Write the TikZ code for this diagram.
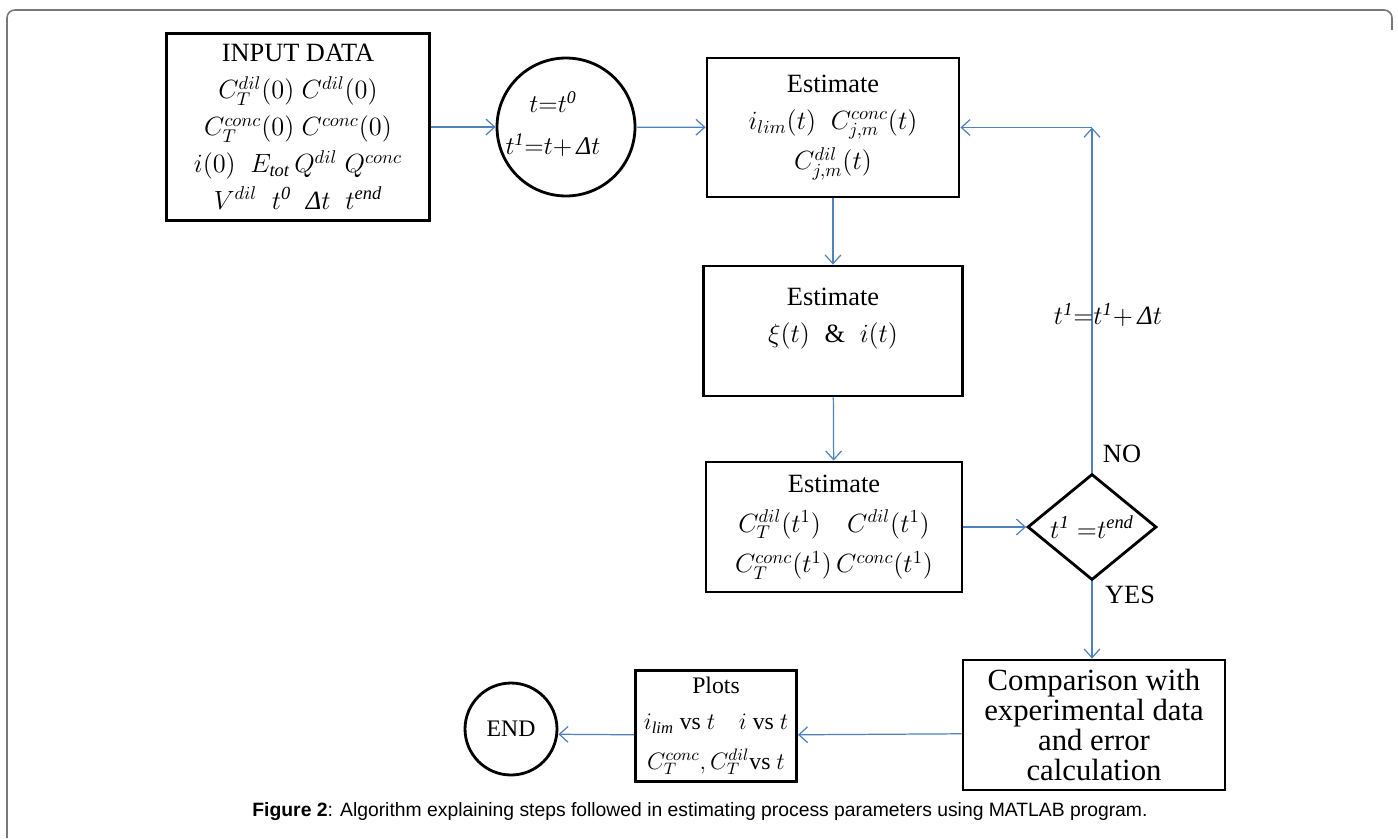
\documentclass[tikz,border=0pt]{standalone}
\usepackage{fix-cm}
\usepackage{fontspec}
\setmainfont{Liberation Serif}
\newfontfamily\capfont{Liberation Sans}
\usetikzlibrary{arrows.meta,shapes.geometric}
\definecolor{linkblue}{RGB}{79,129,189}
\definecolor{framegray}{RGB}{120,120,120}
\newcommand{\Dt}{\textit{Δ}t}

\begin{document}
\begin{tikzpicture}[x=0.02cm,y=-0.02cm]
	\tikzstyle{every node}+=[inner sep=0pt, align=center]
	\tikzstyle{box}=[draw=black, line width=1.6pt, rectangle, font=\fontsize{15}{21}\selectfont]
	\tikzstyle{round}=[draw=black, line width=1.6pt, circle, font=\fontsize{15}{20.5}\selectfont]
	\tikzstyle{flow}=[draw=linkblue, line width=0.7pt, -{Straight Barb[length=5pt,width=9pt]}]
	\tikzstyle{lbl}=[font=\fontsize{15}{18}\selectfont]
	\useasboundingbox (0,0) rectangle (1398,838);
	% frame
	\draw [framegray, line width=0.9pt, rounded corners=4.5pt] (7,838) -- (7,10) -- (1392,10) -- (1392,30);
	% nodes
	\node [box, minimum width=5.26cm, minimum height=3.74cm] (input) at (298,127) {INPUT DATA\\
		$C_T^{dil}(0)\;C^{dil}(0)$\\
		$C_T^{conc}(0)\;C^{conc}(0)$\\
		$i(0)\;\;E_{\mathit{tot}}\,Q^{dil}\;Q^{conc}$\\
		$V^{dil}\;\;t^{\mathit{0}}\;\;\Dt\;\;t^{\mathit{end}}$};
	\node [round, minimum size=2.76cm] (init) at (566,127) {};
	\node [lbl, font=\fontsize{14.5}{24}\selectfont] (inittext) at (553,124) {$t{=}t^{\mathit{0}}$\hspace{0.76cm}\\ $t^{\mathit{1}}{=}t{+}\,\Dt$};
	\node [box, minimum width=5.04cm, minimum height=2.78cm] (est1) at (833,127.5) {Estimate\\
		$i_{lim}(t)\;\;C_{j,m}^{conc}(t)$\\[2pt]
		$C_{j,m}^{dil}(t)$};
	\node [box, minimum width=5.18cm, minimum height=2.6cm] (est2) at (833,331) {Estimate\\
		$\xi(t)\;\;\&\;\;i(t)$\\[-9pt] \strut};
	\node [box, minimum width=5.12cm, minimum height=2.6cm] (est3) at (834,527) {Estimate\\[2pt]
		$C_T^{dil}(t^1)\quad C^{dil}(t^1)$\\[2pt]
		$C_T^{conc}(t^1)\,C^{conc}(t^1)$};
	\node [draw=black, line width=1.6pt, diamond, minimum width=2.58cm, minimum height=1.82cm, font=\fontsize{15}{18}\selectfont] (check) at (1092,527) {$t^{\mathit{1}}\;{=}t^{\mathit{end}}$};
	\node [box, minimum width=5.24cm, minimum height=2.6cm, font=\fontsize{17.5}{17.2}\selectfont] (cmp) at (1094,725) {Comparison with\\experimental data\\and error\\calculation};
	\node [box, minimum width=3.22cm, minimum height=2.22cm, font=\fontsize{13.5}{20.5}\selectfont] (plots) at (716,726) {Plots\\
		$i_{\mathit{lim}}$ vs $t$\quad $i$ vs $t$\\[2pt]
		$C_T^{conc}, C_T^{dil}$vs $t$};
	\node [round, minimum size=1.84cm, font=\fontsize{13.5}{16}\selectfont] (stop) at (511,729) {END};
	\coordinate (corner) at (check.north |- est1.east);
	% labels
	\node [lbl] (no) at (1122,454) {NO};
	\node [lbl] (yes) at (1130,595) {YES};
	% connectors
	\draw [flow] (input) -- (init);
	\draw [flow] (init) -- (est1);
	\draw [flow] (est1) -- (est2);
	\draw [flow] (est2) -- (est3);
	\draw [flow] (est3) -- (check);
	\draw [flow] (check.north) -- (corner);
	\draw [flow] (corner) -- (est1.east);
	\draw [flow] (check.south) -- (cmp.north -| check.south);
	\draw [flow] ([yshift=-5pt]cmp.west) -- ([yshift=-5pt]plots.east);
	\draw [flow] ([yshift=-5pt]plots.west) -- ([yshift=-3pt]stop.east);
	\node [lbl] (step) at (1108,315) {$t^{\mathit{1}}{=}t^{\mathit{1}}{+}\,\Dt$};
	% caption
	\node (caption) at (700,812) {\capfont\fontsize{11}{13}\selectfont\textbf{Figure 2}: Algorithm explaining steps followed in estimating process parameters using MATLAB program.};
\end{tikzpicture}
\end{document}
